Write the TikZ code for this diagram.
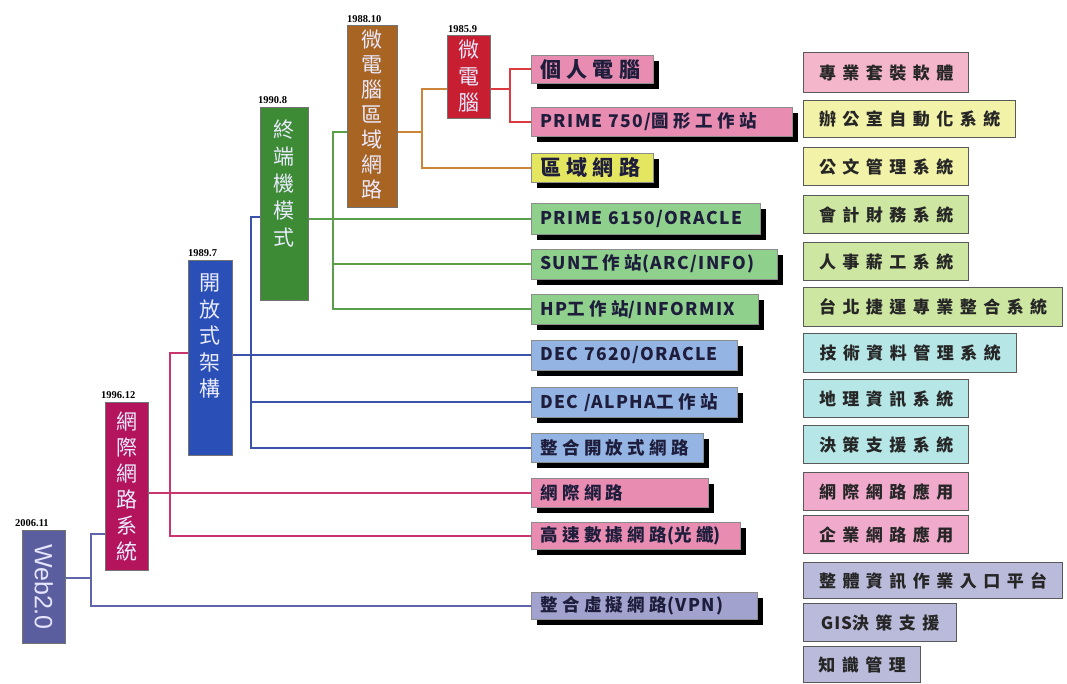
\documentclass[tikz,border=0pt]{standalone}
\usepackage{fontspec}
\setmainfont{Noto Sans CJK TC}
\newfontfamily\cjk{Noto Sans CJK TC}
\newfontfamily\mf[LetterSpace=25]{Noto Sans CJK TC}
\newfontfamily\ml[LetterSpace=8]{Noto Sans CJK TC}
\newfontfamily\rf[LetterSpace=38]{Noto Sans CJK TC}
\newfontfamily\rl[LetterSpace=5]{Noto Sans CJK TC}
\newfontfamily\datef{Liberation Serif}
\newfontfamily\webf{Liberation Sans}
\usetikzlibrary{shadows}
\definecolor{cWeb}{HTML}{5B5E9E}
\definecolor{cNet}{HTML}{B3145C}
\definecolor{cOpen}{HTML}{2A50B8}
\definecolor{cTerm}{HTML}{3D8B34}
\definecolor{cLan}{HTML}{A86422}
\definecolor{cMicro}{HTML}{C81E32}
\definecolor{lWeb}{HTML}{6064A8}
\definecolor{lNet}{HTML}{C8356F}
\definecolor{lOpen}{HTML}{3A52AA}
\definecolor{lTerm}{HTML}{5AA04A}
\definecolor{lLan}{HTML}{CC8438}
\definecolor{lMicro}{HTML}{DD3A40}
\definecolor{mPink}{HTML}{E98CB2}
\definecolor{mYellow}{HTML}{E4E660}
\definecolor{mGreen}{HTML}{8FD08C}
\definecolor{mBlue}{HTML}{94B4E4}
\definecolor{mLav}{HTML}{A2A2CE}
\definecolor{rPink}{HTML}{F4B6CA}
\definecolor{rYellow}{HTML}{F2F2A8}
\definecolor{rGreen}{HTML}{CDE6A2}
\definecolor{rCyan}{HTML}{B6E6E6}
\definecolor{rPink2}{HTML}{F0AACC}
\definecolor{rLav}{HTML}{BABADA}
\definecolor{mText}{HTML}{1E1E3C}
\tikzset{
  vbox/.style={draw=black!55, line width=0.8pt, anchor=north west, inner sep=0pt},
  vtext/.style={text=white!92!blue, inner sep=0pt, align=center, anchor=north},
  datel/.style={font=\datef\bfseries\fontsize{10.5}{10.5}\selectfont, anchor=south west, inner sep=0pt},
  midbox/.style={draw=black!45, line width=0.6pt, anchor=north west, inner xsep=9pt, inner ysep=0pt,
    align=left, text=mText, font=\mf\bfseries\fontsize{17.5}{17.5}\selectfont,
    drop shadow={shadow xshift=6pt, shadow yshift=-6pt, fill=black, opacity=1}},
  rbox/.style={draw=gray!70!black, line width=1.3pt, anchor=north west, inner sep=0pt,
    text=black!85, font=\rf\bfseries\fontsize{17}{17}\selectfont},
  conn/.style={line width=1.8pt},
}
\begin{document}
\begin{tikzpicture}[x=1pt,y=-1pt]
\useasboundingbox (0,0) rectangle (1067,684);
% ---------------- vertical (era) boxes ----------------
\node[vbox, fill=cWeb, minimum width=43, minimum height=113] (web) at (22,530) {};
\node[text=white!90!blue, inner sep=0pt, rotate=-90, font=\webf\fontsize{25}{25}\selectfont] (webT) at (web.center) {Web2.0};
\node[datel] (dWeb) at ([xshift=-7pt,yshift=3pt]web.north west) {2006.11};

\node[vbox, fill=cNet, minimum width=43, minimum height=168] (isys) at (105,402) {};
\node[vtext, font=\cjk\fontsize{21}{26}\selectfont] (isysT) at ([yshift=-10pt]isys.north) {網\\際\\網\\路\\系\\統};
\node[datel] (dNet) at ([xshift=-4pt,yshift=3pt]isys.north west) {1996.12};

\node[vbox, fill=cOpen, minimum width=44, minimum height=195] (opn) at (188,260) {};
\node[vtext, font=\cjk\fontsize{21}{26.5}\selectfont] (opnT) at ([yshift=-14pt]opn.north) {開\\放\\式\\架\\構};
\node[datel] (dOpen) at ([xshift=0pt,yshift=3pt]opn.north west) {1989.7};

\node[vbox, fill=cTerm, minimum width=48, minimum height=193] (term) at (260,107) {};
\node[vtext, font=\cjk\fontsize{21}{27}\selectfont] (termT) at ([yshift=-13pt]term.north) {終\\端\\機\\模\\式};
\node[datel] (dTerm) at ([xshift=-2pt,yshift=3pt]term.north west) {1990.8};

\node[vbox, fill=cLan, minimum width=50, minimum height=182] (mlan) at (347,25) {};
\node[vtext, font=\cjk\fontsize{21}{25}\selectfont] (mlanT) at ([yshift=-5pt]mlan.north) {微\\電\\腦\\區\\域\\網\\路};
\node[datel] (dLan) at ([xshift=0pt,yshift=2pt]mlan.north west) {1988.10};

\node[vbox, fill=cMicro, minimum width=43, minimum height=83] (micro) at (447,35) {};
\node[vtext, font=\cjk\fontsize{21}{26.5}\selectfont] (microT) at ([yshift=-5pt]micro.north) {微\\電\\腦};
\node[datel] (dMicro) at ([xshift=1pt,yshift=2pt]micro.north west) {1985.9};

% ---------------- junction points of the connectors ----------------
\coordinate (rj) at (510,89);
\coordinate (oj) at (422,132);
\coordinate (oj2) at (422,89);
\coordinate (gj) at (333,132);
\coordinate (bj) at (251,217);
\coordinate (pj) at (170,353);
\coordinate (wj) at (91,534);

% ---------------- middle boxes ----------------
\node[midbox, fill=mPink, minimum height=28, text width=104] (pc) at (531,55) {\fontsize{21}{21}\selectfont 個人電腦};
\node[midbox, fill=mPink, minimum height=29, text width=243] (p750) at (531,107) {{\ml PRIME~750/}圖形工作站};
\node[midbox, fill=mYellow, minimum height=29, text width=104] (lan) at (531,153) {\fontsize{21}{21}\selectfont 區域網路};
\node[midbox, fill=mGreen, minimum height=31, text width=211] (p61) at (531,203) {\ml PRIME~6150/ORACLE};
\node[midbox, fill=mGreen, minimum height=30, text width=228] (sun) at (531,249) {{\ml SUN}工作站{\ml (ARC/INFO)}};
\node[midbox, fill=mGreen, minimum height=30, text width=209] (hp) at (531,294) {{\ml HP}工作站{\ml /INFORMIX}};
\node[midbox, fill=mBlue, minimum height=30, text width=188] (dec1) at (531,340) {\ml DEC~7620/ORACLE};
\node[midbox, fill=mBlue, minimum height=30, text width=188] (alpha) at (531,387) {{\ml DEC~/ALPHA}工作站};
\node[midbox, fill=mBlue, minimum height=29, text width=154] (int) at (531,433) {整合開放式網路};
\node[midbox, fill=mPink, minimum height=29, text width=159] (inet) at (531,478) {網際網路};
\node[midbox, fill=mPink, minimum height=27, text width=191] (hs) at (531,522) {高速數據網路{\ml (}光纖{\ml )}};
\node[midbox, fill=mLav, minimum height=27, text width=208] (vpn) at (531,592) {整合虛擬網路{\ml (VPN)}};

% ---------------- connectors ----------------
\begin{scope}[conn]
% web 2.0
\draw[lWeb] ([yshift=9pt]web.east) -- ([yshift=9pt]web.east -| wj);
\draw[lWeb] (isys.west |- wj) -| (vpn.west -| wj) -- (vpn.west);
% internet system
\draw[lNet] (isys.east |- inet.west) -- (inet.west);
\draw[lNet] (opn.west |- pj) -| (hs.west -| pj) -- (hs.west);
% open architecture
\draw[lOpen] (opn.east |- dec1.west) -- (dec1.west);
\draw[lOpen] (term.west |- bj) -| (int.west -| bj) -- (int.west);
\draw[lOpen] (alpha.west -| bj) -- (alpha.west);
% terminal mode
\draw[lTerm] (term.east |- p61.west) -- (p61.west);
\draw[lTerm] (mlan.west |- gj) -| (hp.west -| gj) -- (hp.west);
\draw[lTerm] (sun.west -| gj) -- (sun.west);
% micro lan
\draw[lLan] (mlan.east |- oj) -- (oj);
\draw[lLan] (micro.west |- oj2) -| (lan.west -| oj2) -- (lan.west);
% micro
\draw[lMicro] (micro.east |- rj) -- (rj);
\draw[lMicro] (pc.west) -| (p750.west -| rj) -- (p750.west);
\end{scope}

% ---------------- right boxes ----------------
\node[rbox, fill=rPink, minimum width=165, minimum height=40] (r1) at (803,52) {專業套裝軟體};
\node[rbox, fill=rYellow, minimum width=212, minimum height=37] (r2) at (803,100) {辦公室自動化系統};
\node[rbox, fill=rYellow, minimum width=165, minimum height=38] (r3) at (803,147) {公文管理系統};
\node[rbox, fill=rGreen, minimum width=165, minimum height=38] (r4) at (803,195) {會計財務系統};
\node[rbox, fill=rGreen, minimum width=165, minimum height=38] (r5) at (803,242) {人事薪工系統};
\node[rbox, fill=rGreen, minimum width=259, minimum height=39] (r6) at (803,287) {台北捷運專業整合系統};
\node[rbox, fill=rCyan, minimum width=213, minimum height=39] (r7) at (803,333) {技術資料管理系統};
\node[rbox, fill=rCyan, minimum width=165, minimum height=38] (r8) at (803,379) {地理資訊系統};
\node[rbox, fill=rCyan, minimum width=165, minimum height=38] (r9) at (803,425) {決策支援系統};
\node[rbox, fill=rPink2, minimum width=165, minimum height=38] (r10) at (803,472) {網際網路應用};
\node[rbox, fill=rPink2, minimum width=165, minimum height=38] (r11) at (803,515) {企業網路應用};
\node[rbox, fill=rLav, minimum width=259, minimum height=36] (r12) at (803,562) {整體資訊作業入口平台};
\node[rbox, fill=rLav, minimum width=153, minimum height=38] (r13) at (803,603) {{\rl GIS}決策支援};
\node[rbox, fill=rLav, minimum width=117, minimum height=36] (r14) at (803,646) {知識管理};
\end{tikzpicture}
\end{document}
